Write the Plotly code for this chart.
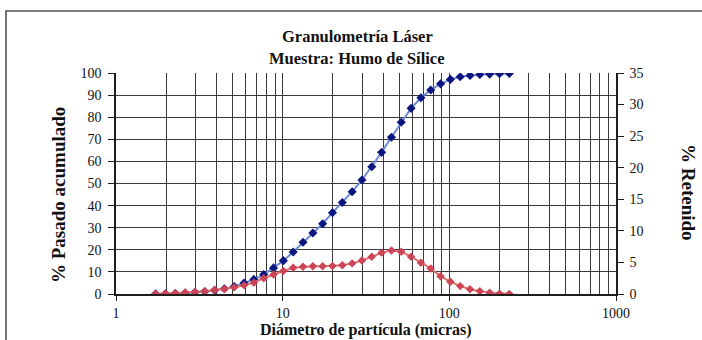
import plotly.graph_objects as go

# Particle diameters (µm) from the laser analyser size classes
diametro = [1.729, 1.981, 2.269, 2.599, 2.976, 3.409, 3.905, 4.472, 5.122, 5.867,
            6.720, 7.697, 8.816, 10.097, 11.565, 13.246, 15.172, 17.377, 19.904, 22.797,
            26.111, 29.907, 34.255, 39.234, 44.938, 51.471, 58.953, 67.523, 77.339, 88.583,
            101.46, 116.21, 133.10, 152.45, 174.62, 200.00, 229.07]

# Cumulative passing (%)
pasado = [0.05, 0.1, 0.2, 0.45, 0.75, 1.15, 1.7, 2.4, 3.4, 5.0,
          6.6, 8.8, 11.8, 15.1, 19.0, 23.4, 27.6, 31.8, 36.8, 41.4,
          46.3, 51.6, 57.6, 64.1, 70.9, 77.7, 84.0, 88.8, 92.3, 95.1,
          97.1, 98.3, 98.9, 99.3, 99.5, 99.7, 99.8]

# Retained per size class (%)
retenido = [0.05, 0.07, 0.15, 0.25, 0.32, 0.45, 0.65, 0.8, 1.05, 1.4,
            1.8, 2.5, 3.1, 3.65, 4.15, 4.3, 4.4, 4.4, 4.45, 4.55,
            4.85, 5.3, 5.9, 6.55, 6.9, 6.7, 5.9, 4.95, 4.05, 2.8,
            1.95, 1.25, 0.75, 0.45, 0.2, 0.06, 0.02]

x_ticks = [1, 10, 100, 1000]
x_minor = [m * d for d in (1, 10, 100) for m in range(2, 10)]

W, H = 702, 340
L, R, T, B = 116, 616, 73, 294  # plot area in pixels


def px(x):
    return (x - L) / (R - L)


def py(y):
    return (B - y) / (B - T)


SERIF = "Liberation Serif, Times New Roman, serif"
GRID = "#3a3a3a"
AXIS = "#1e1e1e"

fig = go.Figure()

fig.add_trace(go.Scatter(
    x=diametro, y=pasado, mode="lines+markers", yaxis="y",
    line=dict(color="#6b8bd6", width=2),
    marker=dict(symbol="diamond", size=7, color="#0b1580"),
    name="% Pasado acumulado", showlegend=False,
))
fig.add_trace(go.Scatter(
    x=diametro, y=retenido, mode="lines+markers", yaxis="y2",
    line=dict(color="#e07070", width=2),
    marker=dict(symbol="diamond", size=6.5, color="#cc4455"),
    name="% Retenido", showlegend=False,
))

fig.update_layout(
    width=W, height=H,
    margin=dict(l=L, r=W - R, t=T, b=H - B, pad=0),
    paper_bgcolor="white", plot_bgcolor="white",
    font=dict(family=SERIF, size=14, color="#111"),
    xaxis=dict(
        type="log", range=[0, 3],
        tickvals=x_ticks, ticktext=[str(v) for v in x_ticks],
        ticks="outside", ticklen=5, tickcolor=AXIS,
        showgrid=True, gridcolor=GRID, gridwidth=1.3,
        minor=dict(tickvals=x_minor, showgrid=True, gridcolor=GRID, gridwidth=1.3, ticks=""),
        showline=True, linecolor=AXIS, linewidth=1.6,
        zeroline=False, tickfont=dict(size=14),
    ),
    yaxis=dict(
        range=[0, 100], dtick=10, tick0=0,
        ticks="outside", ticklen=6, tickcolor=AXIS,
        showgrid=True, gridcolor=GRID, gridwidth=1.3,
        showline=True, linecolor=AXIS, linewidth=1.6,
        zeroline=False, tickfont=dict(size=14), ticklabelstandoff=4,
    ),
    yaxis2=dict(
        range=[0, 35], dtick=5, tick0=0, overlaying="y", side="right",
        ticks="outside", ticklen=6, tickcolor=AXIS,
        showgrid=False, showline=True, linecolor=AXIS, linewidth=1.6,
        zeroline=False, tickfont=dict(size=14), ticklabelstandoff=3,
    ),
    shapes=[dict(
        type="rect", xref="paper", yref="paper",
        x0=px(6), x1=px(714), y0=py(360), y1=py(11),
        line=dict(color="#555", width=1.6), fillcolor="rgba(0,0,0,0)", layer="below",
    )],
    annotations=[
        dict(text="<b>Granulometría Láser</b>", x=px(357), y=py(37), xref="paper", yref="paper",
             showarrow=False, xanchor="center", yanchor="middle", font=dict(size=16.5)),
        dict(text="<b>Muestra: Humo de Sílice</b>", x=px(357), y=py(58), xref="paper", yref="paper",
             showarrow=False, xanchor="center", yanchor="middle", font=dict(size=16.5)),
        dict(text="<b>% Pasado acumulado</b>", x=px(58), y=py(195), xref="paper", yref="paper",
             showarrow=False, xanchor="center", yanchor="middle", textangle=-90, font=dict(size=19)),
        dict(text="<b>% Retenido</b>", x=px(689), y=py(192), xref="paper", yref="paper",
             showarrow=False, xanchor="center", yanchor="middle", textangle=90, font=dict(size=19)),
        dict(text="<b>Diámetro de partícula (micras)</b>", x=px(366), y=py(330), xref="paper", yref="paper",
             showarrow=False, xanchor="center", yanchor="middle", font=dict(size=16)),
    ],
)

fig.write_html("out.html")
